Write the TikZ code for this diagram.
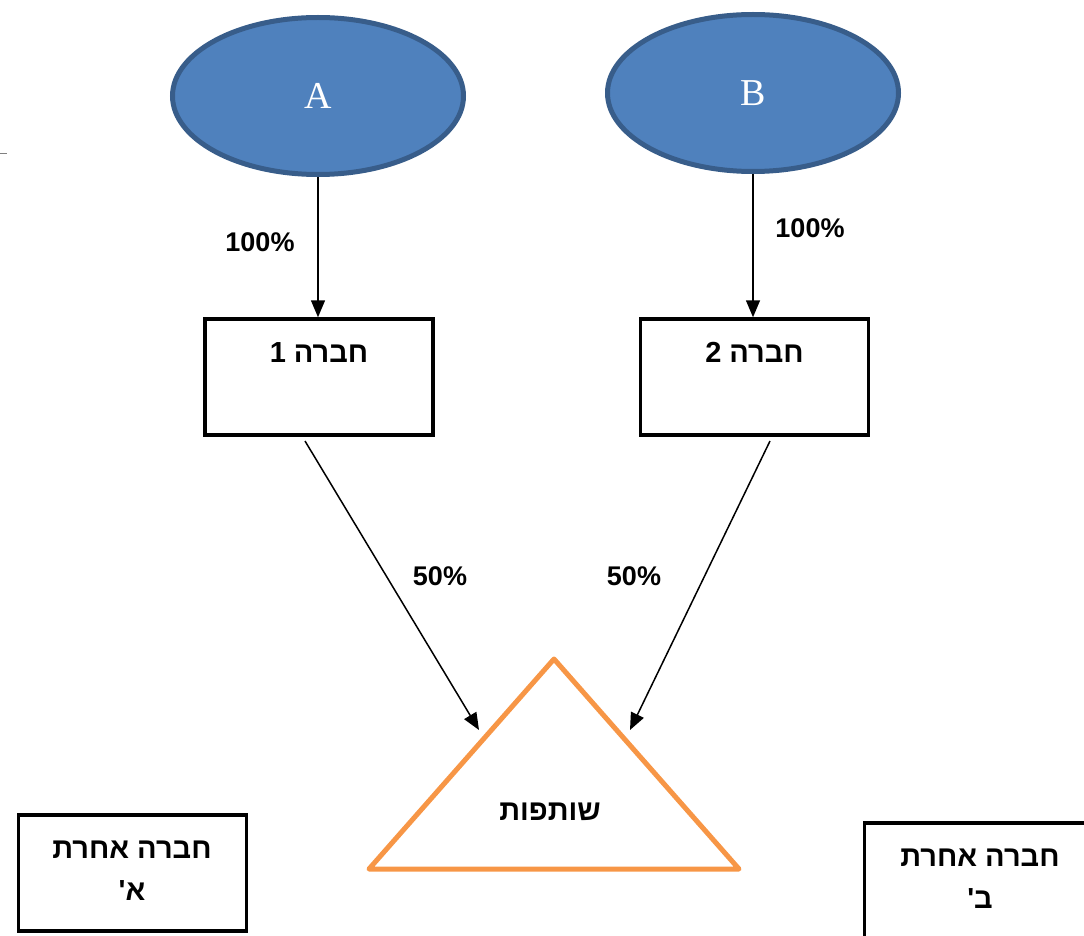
\documentclass[tikz,border=0pt]{standalone}
\usepackage{fontspec}
\setmainfont{Liberation Serif}
\newfontfamily\heb[Script=Hebrew]{Liberation Sans}
\newfontfamily\lat{Liberation Sans}
\TeXXeTstate=1
\usetikzlibrary{shapes.geometric,arrows.meta,calc}
\definecolor{ellfill}{HTML}{4F81BD}
\definecolor{elldraw}{HTML}{385D8A}
\definecolor{tri}{HTML}{F79646}
\begin{document}
\begin{tikzpicture}[x=1pt,y=-1pt,
  ell/.style={ellipse,fill=ellfill,draw=elldraw,line width=5pt,minimum width=291pt,minimum height=157pt,inner sep=0pt,
    text=white,font=\fontsize{38}{44}\selectfont},
  cbox/.style={rectangle,draw=black,line width=3.5pt,minimum width=228pt,minimum height=116pt,inner sep=0pt},
  htxt/.style={font=\heb\bfseries\fontsize{29}{42}\selectfont,align=center,inner sep=0pt},
  pct/.style={font=\lat\bfseries\fontsize{27}{30}\selectfont,inner sep=0pt},
  arr/.style={line width=1.5pt,-{Triangle[length=17pt,width=14pt]}}]
\useasboundingbox (0,0) rectangle (1084,936);
\clip (0,0) rectangle (1084,936);
% small artifact at left
\draw[gray,line width=1pt] (0,154) -- (7,154);
% ellipses
\node[ell] (A) at (318,96) {A};
\node[ell] (B) at (753,93) {B};
% boxes
\node[cbox] (b1) at (319,377) {};
\node[cbox] (b2) at (754.5,377) {};
\node[cbox] (oa) at (132.5,873) {};
\node[cbox] (ob) at (978.5,881) {};
% box texts
\node[htxt] (t1) at ($(b1.north)+(0,35)$) {\beginR חברה 1\endR};
\node[htxt] (t2) at ($(b2.north)+(0,35)$) {\beginR חברה 2\endR};
\node[htxt] (ta) at (132,871) {\beginR חברה אחרת\endR\\\beginR א'\endR};
\node[htxt] (tb) at (980,879) {\beginR חברה אחרת\endR\\\beginR ב'\endR};
% triangle
\coordinate (apex) at (554,659);
\coordinate (bl) at (369,869);
\coordinate (br) at (739,869);
\draw[tri,line width=5pt,line join=round] (apex) -- (bl) -- (br) -- cycle;
\node[htxt] (sh) at (550,812) {\beginR שותפות\endR};
% arrows
\draw[arr] (A.south) -- (A.south |- b1.north);
\draw[arr] (B.south) -- (B.south |- b2.north);
\coordinate (s1) at (305,441);
\coordinate (e1) at (479,730);
\coordinate (s2) at (770,441);
\coordinate (e2) at (630,730);
\draw[arr] (s1) -- (e1);
\draw[arr] (s2) -- (e2);
% labels
\node[pct] (p1) at (260,242) {100\%};
\node[pct] (p2) at (810,228) {100\%};
\node[pct] (p3) at (440,576) {50\%};
\node[pct] (p4) at (634,576) {50\%};
\end{tikzpicture}
\end{document}
